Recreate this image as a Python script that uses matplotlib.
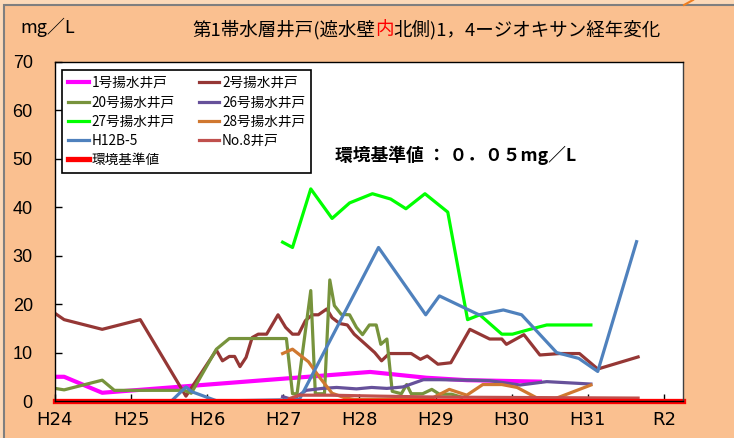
#1,4-dioxane trend chart for the first aquifer wells

import matplotlib.pyplot as plt
from matplotlib.patches import Rectangle
from matplotlib.lines import Line2D

plt.rcParams['font.family'] = ['Noto Sans CJK JP', 'DejaVu Sans']

#Data (x in fiscal years, 24 = H24)

year_ticks = [24, 25, 26, 27, 28, 29, 30, 31, 32]
year_labels = ['H24', 'H25', 'H26', 'H27', 'H28', 'H29', 'H30', 'H31', 'R2']

x_no1 = [24.00, 24.12, 24.62, 28.14, 28.88, 29.41, 30.37]
y_no1 = [5.0, 5.0, 1.7, 6.0, 4.8, 4.3, 4.0]

x_no2 = [24.00, 24.12, 24.62, 25.12, 25.72, 26.12, 26.20, 26.29, 26.36, 26.43, 26.51,
         26.59, 26.67, 26.78, 26.93, 27.03, 27.12, 27.20, 27.29, 27.38, 27.46, 27.57,
         27.64, 27.74, 27.84, 27.93, 28.08, 28.20, 28.29, 28.39, 28.68, 28.80, 28.89,
         29.03, 29.20, 29.45, 29.71, 29.87, 29.93, 30.16, 30.37, 30.63, 30.89, 31.13, 31.66]
y_no2 = [18.1, 16.8, 14.8, 16.8, 1.0, 10.5, 8.3, 9.2, 9.2, 7.1, 9.0,
         13.1, 13.8, 13.8, 17.8, 15.2, 13.8, 13.8, 16.6, 17.8, 17.8, 19.0,
         17.2, 16.0, 15.7, 13.8, 11.7, 10.0, 8.3, 9.8, 9.8, 8.6, 9.3,
         7.6, 7.9, 14.8, 12.8, 12.8, 11.7, 13.7, 9.5, 9.8, 9.8, 6.6, 9.1]

x_no20 = [24.00, 24.12, 24.62, 24.78, 25.70, 25.79, 26.12, 26.29, 27.04, 27.12, 27.18,
          27.36, 27.42, 27.54, 27.61, 27.67, 27.76, 27.87, 27.96, 28.04, 28.13, 28.22,
          28.28, 28.36, 28.43, 28.55, 28.62, 28.68, 28.83, 28.95, 29.05, 29.21, 29.34]
y_no20 = [2.6, 2.3, 4.3, 2.2, 2.2, 1.6, 10.7, 12.9, 12.9, 1.5, 1.5,
          22.8, 1.5, 1.5, 25.0, 19.7, 17.9, 17.8, 15.2, 13.7, 15.7, 15.7,
          11.7, 12.8, 2.0, 1.5, 3.4, 1.5, 1.5, 2.4, 1.4, 1.4, 0.8]

x_no26 = [26.99, 27.12, 27.30, 27.51, 27.70, 27.96, 28.16, 28.36, 28.57, 28.84, 29.05,
          29.41, 29.71, 30.11, 30.46, 31.04]
y_no26 = [0.9, 0.3, 2.2, 2.6, 2.8, 2.5, 2.8, 2.6, 2.9, 4.4, 4.4,
          4.3, 4.2, 3.3, 4.0, 3.5]

x_no27 = [26.99, 27.12, 27.36, 27.64, 27.87, 28.17, 28.41, 28.61, 28.86, 29.16, 29.42,
          29.58, 29.87, 30.01, 30.24, 30.46, 31.04]
y_no27 = [32.8, 31.7, 43.8, 37.7, 40.9, 42.8, 41.7, 39.7, 42.8, 39.0, 16.8,
          17.8, 13.8, 13.8, 14.8, 15.7, 15.7]

x_no28 = [26.99, 27.12, 27.33, 27.47, 27.64, 27.80, 27.93, 28.92, 29.18, 29.41, 29.62,
          29.87, 30.07, 30.37, 30.54, 31.04]
y_no28 = [9.8, 10.7, 8.1, 5.0, 1.6, 0.7, 0.3, 0.3, 2.4, 1.2, 3.4,
          3.4, 2.8, 0.3, 0.3, 3.3]

x_h12 = [25.37, 25.53, 25.72, 25.80, 26.13, 27.21, 28.25, 28.87, 29.05, 29.57, 29.89,
         30.13, 30.59, 30.88, 31.13, 31.64]
y_h12 = [0.0, 0.0, 2.9, 1.9, 0.0, 0.3, 31.7, 17.8, 21.7, 17.8, 18.8,
         17.8, 10.0, 8.8, 6.1, 32.9]

x_no8 = [27.08, 27.21, 27.61, 28.26, 29.05, 30.37, 31.66]
y_no8 = [0.5, 1.2, 1.2, 1.0, 0.8, 0.7, 0.6]

x_kijun = [24.0, 32.25]
y_kijun = [0.05, 0.05]

#Figure and background

fig = plt.figure(figsize=(7.34, 4.38), dpi=100)
fig.patch.set_facecolor('#FCD9B8')
fig.patches.append(Rectangle((4/734, -0.05), 1.0, 1 - 5/438 + 0.05, transform=fig.transFigure,
                             facecolor='#FAC090', edgecolor='#7F7F7F', lw=1.5, zorder=-10))
fig.lines.append(Line2D([684/734, 693/734], [1 - 5/438, 1.0], transform=fig.transFigure,
                        color='#F07F20', lw=1.5, zorder=-9))

ax = fig.add_axes([55/734, 1 - 401/438, (683 - 55)/734, (401 - 62)/438])
ax.set_facecolor('white')

#Plotting the series

lw = 2.3
l1, = ax.plot(x_no1, y_no1, color='#FF00FF', lw=3.0, label='1号揚水井戸')
l2, = ax.plot(x_no2, y_no2, color='#953735', lw=lw, label='2号揚水井戸')
l20, = ax.plot(x_no20, y_no20, color='#77933C', lw=lw, label='20号揚水井戸')
l26, = ax.plot(x_no26, y_no26, color='#66519A', lw=lw, label='26号揚水井戸')
l27, = ax.plot(x_no27, y_no27, color='#00FF00', lw=lw, label='27号揚水井戸')
l28, = ax.plot(x_no28, y_no28, color='#D07830', lw=lw, label='28号揚水井戸')
lh, = ax.plot(x_h12, y_h12, color='#4F81BD', lw=lw, label='H12B-5')
l8, = ax.plot(x_no8, y_no8, color='#C0504D', lw=lw, label='No.8井戸')
lk, = ax.plot(x_kijun, y_kijun, color='#FF0000', lw=3.8, label='環境基準値', clip_on=False)

#Axes styling

ax.set_xlim(24, 32.25)
ax.set_ylim(0, 70)
ax.set_xticks(year_ticks)
ax.set_xticklabels(year_labels, family=['Liberation Sans Narrow', 'DejaVu Sans'], fontsize=13)
ax.set_yticks(range(0, 71, 10))
ax.set_yticklabels([str(v) for v in range(0, 71, 10)], family=['Liberation Sans', 'DejaVu Sans'], fontsize=13)
ax.tick_params(axis='y', direction='in', length=5, width=1, pad=16)
ax.tick_params(axis='x', direction='in', length=5, width=1, pad=7)
for sp in ax.spines.values():
    sp.set_color('black')
    sp.set_linewidth(1)
ax.spines['right'].set_color('#404040')

#Legend (column-wise order so rows read like the original)

handles = [l1, l20, l27, lh, lk, l2, l26, l28, l8]
leg = ax.legend(handles=handles, ncol=2, loc='upper left', bbox_to_anchor=(7/628, 1 - 8/339),
                fontsize=9.8, frameon=True, fancybox=False, edgecolor='black', framealpha=1,
                handlelength=1.5, handletextpad=0.2, columnspacing=1.8, labelspacing=0.38,
                borderpad=0.45, borderaxespad=0)
leg.get_frame().set_linewidth(1.2)

#Texts

fig.text(20/734, 1 - 27/438, 'mg／L', fontsize=13, va='center', ha='left')

x0 = 375/734
ty = 1 - 30/438
fs = 13.3
fig.text(x0, ty, '第1帯水層井戸(遮水壁', ha='right', va='center', fontsize=fs)
fig.text(x0, ty, '内', ha='left', va='center', fontsize=fs, color='red')
ax.annotate('北側)1，4ージオキサン経年変化', xy=(x0, ty), xycoords='figure fraction',
            xytext=(fs, 0), textcoords='offset points',
            ha='left', va='center', fontsize=fs, annotation_clip=False)

fig.text(335/734, 1 - 155/438, '環境基準値 ： ０．０５mg／L', fontsize=12.8,
         fontweight='bold', va='center', ha='left')

fig.savefig('out.png', dpi=100, facecolor=fig.get_facecolor())
